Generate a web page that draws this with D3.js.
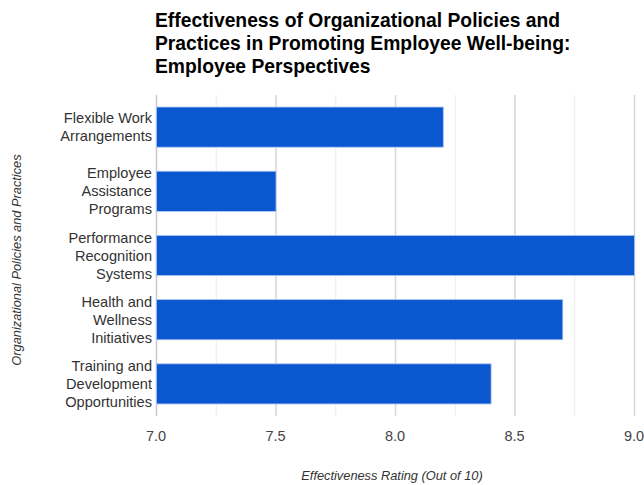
<!DOCTYPE html>
<meta charset="utf-8">
<html>
<head>
<script src="https://d3js.org/d3.v7.min.js"></script>
<style>
    body { margin: 0; background: #fff; font-family: "Liberation Sans", Arial, sans-serif; }
</style>
</head>
<body>
<div id="chart"></div>
<script>
    // data
    var policies = [
        ["Flexible Work", "Arrangements"],
        ["Employee", "Assistance", "Programs"],
        ["Performance", "Recognition", "Systems"],
        ["Health and", "Wellness", "Initiatives"],
        ["Training and", "Development", "Opportunities"]
    ];
    var ratings = [8.2, 7.5, 9.0, 8.7, 8.4];
    var tickValues = [7.0, 7.5, 8.0, 8.5, 9.0];
    var minorTicks = [7.25, 7.75, 8.25, 8.75];
    var titleLines = [
        "Effectiveness of Organizational Policies and",
        "Practices in Promoting Employee Well-being:",
        "Employee Perspectives"
    ];

    var W = 644, H = 485;
    var margin = { top: 95, left: 156 };

    var svg = d3.select("#chart").append("svg")
        .attr("width", W)
        .attr("height", H);

    var g = svg.append("g")
        .attr("transform", "translate(" + margin.left + "," + margin.top + ")");

    var x = d3.scaleLinear().domain([7, 9]).range([0, 478]);
    var y = d3.scaleBand()
        .domain(d3.range(policies.length))
        .range([0, 321])
        .paddingInner(0.375)
        .paddingOuter(0.1875);

    // grid lines
    g.selectAll(".minor").data(minorTicks).enter().append("line")
        .attr("x1", d => x(d) + 0.5).attr("x2", d => x(d) + 0.5)
        .attr("y1", 0).attr("y2", 321)
        .attr("stroke", "#ebebeb");
    g.selectAll(".major").data(tickValues).enter().append("line")
        .attr("x1", d => x(d) + 0.5).attr("x2", d => x(d) + 0.5)
        .attr("y1", 0).attr("y2", 321)
        .attr("stroke", d => d === 7 ? "#c8c8c8" : "#d6d6d6")
        .attr("stroke-width", 1.5);

    // bars
    g.selectAll(".bar").data(ratings).enter().append("rect")
        .attr("class", "bar")
        .attr("x", x(7) + 0.5)
        .attr("y", (d, i) => y(i))
        .attr("width", d => x(d) - x(7))
        .attr("height", y.bandwidth())
        .attr("fill", "#0b57d0")
        .attr("stroke", "#a9c4f0")
        .attr("stroke-width", 0.8);

    // x tick labels
    g.selectAll(".xt").data(tickValues).enter().append("text")
        .attr("x", d => x(d))
        .attr("y", 346)
        .attr("text-anchor", "middle")
        .attr("font-size", 14.5)
        .attr("fill", "#444")
        .text(d => d.toFixed(1));

    // y category labels
    policies.forEach(function (lines, i) {
        var cy = y(i) + y.bandwidth() / 2;
        var t = g.append("text")
            .attr("text-anchor", "end")
            .attr("font-size", 14.6)
            .attr("fill", "#333");
        lines.forEach(function (l, k) {
            t.append("tspan")
                .attr("x", -4)
                .attr("y", cy + 5 + (k - (lines.length - 1) / 2) * 18)
                .text(l);
        });
    });

    // axis titles
    svg.append("text")
        .attr("x", 392).attr("y", 480)
        .attr("text-anchor", "middle")
        .attr("font-size", 12.8)
        .attr("font-style", "italic")
        .attr("fill", "#333")
        .text("Effectiveness Rating (Out of 10)");

    svg.append("text")
        .attr("transform", "translate(21,260) rotate(-90)")
        .attr("text-anchor", "middle")
        .attr("font-size", 12.8)
        .attr("font-style", "italic")
        .attr("fill", "#333")
        .text("Organizational Policies and Practices");

    // title
    var title = svg.append("text")
        .attr("font-size", 19.3)
        .attr("font-weight", "bold")
        .attr("fill", "#000");
    titleLines.forEach(function (l, k) {
        title.append("tspan").attr("x", 155).attr("y", 27 + k * 23).text(l);
    });
</script>
</body>
</html>
